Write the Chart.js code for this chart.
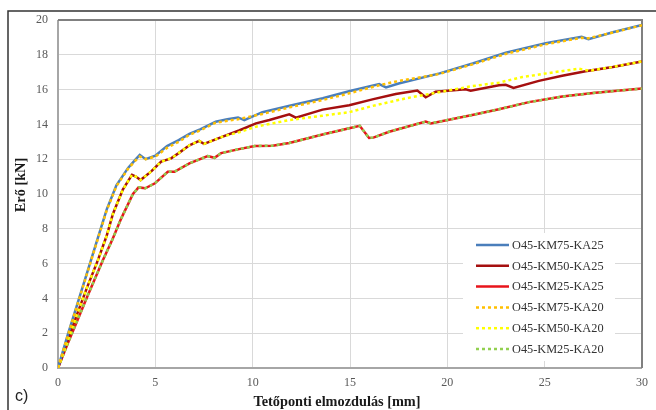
<!DOCTYPE html>
<html>
<head>
<meta charset="utf-8">
<script src="https://cdn.jsdelivr.net/npm/chart.js@4.4.0/dist/chart.umd.min.js"></script>
<style>
  html, body { margin: 0; padding: 0; background: #fff; }
</style>
</head>
<body>
<canvas id="chart" width="656" height="410"></canvas>
<script>
// values (displacement mm / force kN)
const seriesLabels = [
  "O45-KM75-KA25", "O45-KM50-KA25", "O45-KM25-KA25",
  "O45-KM75-KA20", "O45-KM50-KA20", "O45-KM25-KA20",
];

const xKm75Ka25 = [0, 0.5, 1, 1.5, 2, 2.5, 3, 3.3, 3.6, 4, 4.2, 4.5, 5, 5.6, 6.2, 6.75, 7.3, 8.1, 8.7, 9.25, 9.57, 10.5, 11.9, 13.6, 15, 16.5, 16.85, 17.5, 19.6, 21.3, 23, 25.05, 26.9, 27.25, 28.5, 30];
const yKm75Ka25 = [0, 1.9, 3.7, 5.5, 7.3, 9.1, 10.5, 11.0, 11.5, 12.0, 12.25, 12.0, 12.2, 12.75, 13.1, 13.45, 13.72, 14.15, 14.3, 14.4, 14.25, 14.7, 15.07, 15.5, 15.92, 16.32, 16.13, 16.35, 16.93, 17.5, 18.12, 18.66, 19.04, 18.9, 19.3, 19.72];

const xKm50Ka25 = [0, 0.5, 1, 1.5, 2.05, 2.5, 2.82, 3.33, 3.8, 4.0, 4.24, 4.79, 5.3, 5.81, 6.2, 6.75, 7.25, 7.5, 8.46, 9.3, 10.17, 10.86, 11.88, 12.22, 13.59, 14.96, 16.15, 17.35, 18.46, 18.89, 19.4, 20.94, 21.2, 22.65, 23.0, 23.4, 24.7, 25.9, 27.1, 28.5, 30];
const yKm50Ka25 = [0, 1.6, 3.15, 4.65, 6.2, 7.6, 8.85, 10.25, 11.1, 11.0, 10.8, 11.3, 11.86, 12.05, 12.35, 12.8, 13.05, 12.88, 13.3, 13.65, 14.06, 14.25, 14.58, 14.39, 14.85, 15.1, 15.44, 15.75, 15.95, 15.56, 15.88, 16.02, 15.94, 16.25, 16.28, 16.1, 16.5, 16.8, 17.05, 17.3, 17.62];

const xKm25Ka25 = [0, 0.5, 1, 1.5, 2.31, 2.8, 3.25, 3.85, 4.14, 4.48, 4.96, 5.64, 5.98, 6.75, 7.69, 8.04, 8.38, 9.3, 10.1, 11.03, 11.88, 13.59, 14.96, 15.5, 15.98, 16.2, 17.01, 18.89, 19.15, 21.28, 22.65, 24.19, 25.9, 27.61, 30];
const yKm25Ka25 = [0, 1.4, 2.75, 4.1, 6.2, 7.4, 8.6, 10.0, 10.38, 10.33, 10.6, 11.28, 11.28, 11.76, 12.18, 12.08, 12.35, 12.58, 12.76, 12.78, 12.93, 13.42, 13.78, 13.92, 13.22, 13.24, 13.58, 14.16, 14.06, 14.54, 14.87, 15.28, 15.6, 15.82, 16.06];

const xKm75Ka20 = [0, 0.5, 1, 1.5, 2, 2.5, 3, 3.3, 3.6, 4, 4.2, 4.5, 5, 5.6, 6.2, 6.75, 7.3, 8.1, 9.25, 10.5, 11.9, 13.6, 15, 16.5, 17.3, 19.6, 21.3, 23, 25.05, 26.9, 27.25, 28.5, 30];
const yKm75Ka20 = [0, 1.85, 3.65, 5.45, 7.25, 9.05, 10.45, 10.95, 11.45, 11.95, 12.15, 12.0, 12.15, 12.65, 13.0, 13.4, 13.65, 14.1, 14.3, 14.6, 14.98, 15.4, 15.8, 16.25, 16.45, 16.9, 17.45, 18.05, 18.6, 18.98, 18.95, 19.28, 19.7];

const xKm50Ka20 = [0, 0.5, 1, 1.5, 2.05, 2.5, 2.82, 3.33, 3.8, 4.0, 4.24, 4.79, 5.3, 5.81, 6.2, 6.75, 7.25, 7.5, 8.46, 9.3, 10.17, 11.88, 13.59, 14.96, 16.15, 17.87, 19.57, 21.28, 22.65, 23.85, 25.5, 26.75, 27.3, 28.5, 30];
const yKm50Ka20 = [0, 1.6, 3.15, 4.65, 6.2, 7.6, 8.85, 10.25, 11.1, 11.0, 10.8, 11.3, 11.86, 12.05, 12.35, 12.8, 13.05, 12.88, 13.3, 13.55, 13.87, 14.25, 14.5, 14.7, 15.06, 15.5, 15.85, 16.2, 16.4, 16.72, 17.0, 17.2, 17.08, 17.3, 17.62];

const xKm25Ka20 = [0, 0.5, 1, 1.5, 2.31, 2.8, 3.25, 3.85, 4.14, 4.48, 4.96, 5.64, 5.98, 6.75, 7.69, 8.04, 8.38, 9.3, 10.1, 11.03, 11.88, 13.59, 14.96, 15.5, 15.98, 16.2, 17.01, 18.89, 19.15, 21.28, 22.65, 24.19, 25.9, 27.61, 30];
const yKm25Ka20 = [0, 1.4, 2.75, 4.1, 6.2, 7.4, 8.6, 10.0, 10.38, 10.33, 10.6, 11.28, 11.28, 11.76, 12.18, 12.08, 12.35, 12.58, 12.76, 12.78, 12.93, 13.42, 13.78, 13.92, 13.22, 13.24, 13.58, 14.16, 14.06, 14.54, 14.87, 15.28, 15.6, 15.82, 16.06];

const xTickStep = 5;
const yTickStep = 2;
const xTitle = "Tetőponti elmozdulás [mm]";
const yTitle = "Erő [kN]";

function toPoints(xs, ys) {
  return xs.map((x, i) => ({ x: x, y: ys[i] }));
}

function toDataset(label, color, xs, ys, opts) {
  return {
    label: label,
    data: toPoints(xs, ys),
    borderColor: color,
    backgroundColor: color,
    borderWidth: 2.5,
    pointRadius: 0,
    tension: 0,
    fill: false,
    ...opts,
  };
}

const dotted = { borderDash: [3, 3], borderWidth: 2.5, order: 0 };
const solid = { order: 1 };

const datasets = [
  toDataset(seriesLabels[0], "#4a7ebb", xKm75Ka25, yKm75Ka25, solid),
  toDataset(seriesLabels[1], "#a50f0f", xKm50Ka25, yKm50Ka25, solid),
  toDataset(seriesLabels[2], "#e8141b", xKm25Ka25, yKm25Ka25, solid),
  toDataset(seriesLabels[3], "#ffc000", xKm75Ka20, yKm75Ka20, dotted),
  toDataset(seriesLabels[4], "#ffff00", xKm50Ka20, yKm50Ka20, dotted),
  toDataset(seriesLabels[5], "#92d050", xKm25Ka20, yKm25Ka20, dotted),
];

const serif = "'Liberation Serif', 'Times New Roman', serif";

// outer figure frame, plot border, "c)" mark and the axis titles
const framePlugin = {
  id: "frame",
  beforeDraw(chart) {
    const ctx = chart.ctx;
    ctx.save();
    ctx.strokeStyle = "#333";
    ctx.lineWidth = 1.5;
    ctx.beginPath();
    ctx.moveTo(8, 412);
    ctx.lineTo(8, 11);
    ctx.lineTo(658, 11);
    ctx.stroke();
    ctx.fillStyle = "#222";
    ctx.font = "16px 'Liberation Sans', sans-serif";
    ctx.textBaseline = "alphabetic";
    ctx.fillText("c)", 15, 401);
    // titles sit a little off the plot centre in the original
    ctx.fillStyle = "#1a1a1a";
    ctx.font = "bold 14.3px " + serif;
    ctx.textAlign = "center";
    ctx.textBaseline = "middle";
    ctx.fillText(xTitle, 337, 402.5);
    ctx.translate(21.5, 185);
    ctx.rotate(-Math.PI / 2);
    ctx.fillText(yTitle, 0, 0);
    ctx.restore();
  },
  beforeDatasetsDraw(chart) {
    const { ctx, chartArea: a } = chart;
    ctx.save();
    ctx.lineWidth = 2;
    ctx.strokeStyle = "#a6a6a6";
    ctx.beginPath();
    ctx.moveTo(a.left, a.top);
    ctx.lineTo(a.left, a.bottom);
    ctx.lineTo(a.right, a.bottom);
    ctx.stroke();
    ctx.strokeStyle = "#808080";
    ctx.beginPath();
    ctx.moveTo(a.left, a.top);
    ctx.lineTo(a.right, a.top);
    ctx.lineTo(a.right, a.bottom);
    ctx.stroke();
    ctx.restore();
  },
};

// legend box drawn inside the plot area, lower right
const legendPlugin = {
  id: "innerLegend",
  afterDatasetsDraw(chart) {
    const ctx = chart.ctx;
    const box = { left: 463, top: 233, width: 152, height: 128 };
    const rowTop = 245;
    const rowGap = 20.8;
    ctx.save();
    ctx.fillStyle = "#fff";
    ctx.fillRect(box.left, box.top, box.width, box.height);
    ctx.font = "12.3px " + serif;
    ctx.textBaseline = "middle";
    chart.data.datasets.forEach((ds, i) => {
      const y = rowTop + i * rowGap;
      ctx.strokeStyle = ds.borderColor;
      ctx.lineWidth = ds.borderWidth;
      ctx.setLineDash(ds.borderDash || []);
      ctx.beginPath();
      ctx.moveTo(476, y);
      ctx.lineTo(509, y);
      ctx.stroke();
      ctx.setLineDash([]);
      ctx.fillStyle = "#333";
      ctx.fillText(ds.label, 512, y + 0.5);
    });
    ctx.restore();
  },
};

const tickFont = { family: serif, size: 12 };

new Chart(document.getElementById("chart"), {
  type: "line",
  data: { datasets: datasets },
  options: {
    responsive: false,
    animation: false,
    layout: { padding: { top: 20, right: 13, left: 0, bottom: 0 } },
    plugins: {
      legend: { display: false },
      tooltip: { enabled: false },
    },
    scales: {
      x: {
        type: "linear",
        min: 0,
        max: 30,
        ticks: { stepSize: xTickStep, color: "#595959", font: tickFont, padding: 8, maxRotation: 0 },
        grid: { color: "#d9d9d9", lineWidth: 1, drawTicks: false },
        border: { display: false },
        title: { display: false },
        afterFit(scale) { scale.height = 42; },
      },
      y: {
        type: "linear",
        min: 0,
        max: 20,
        ticks: { stepSize: yTickStep, color: "#595959", font: tickFont, padding: 10 },
        grid: { color: "#d9d9d9", lineWidth: 1, drawTicks: false },
        border: { display: false },
        title: { display: false },
        afterFit(scale) { scale.width = 58; },
      },
    },
  },
  plugins: [framePlugin, legendPlugin],
});
</script>
</body>
</html>
